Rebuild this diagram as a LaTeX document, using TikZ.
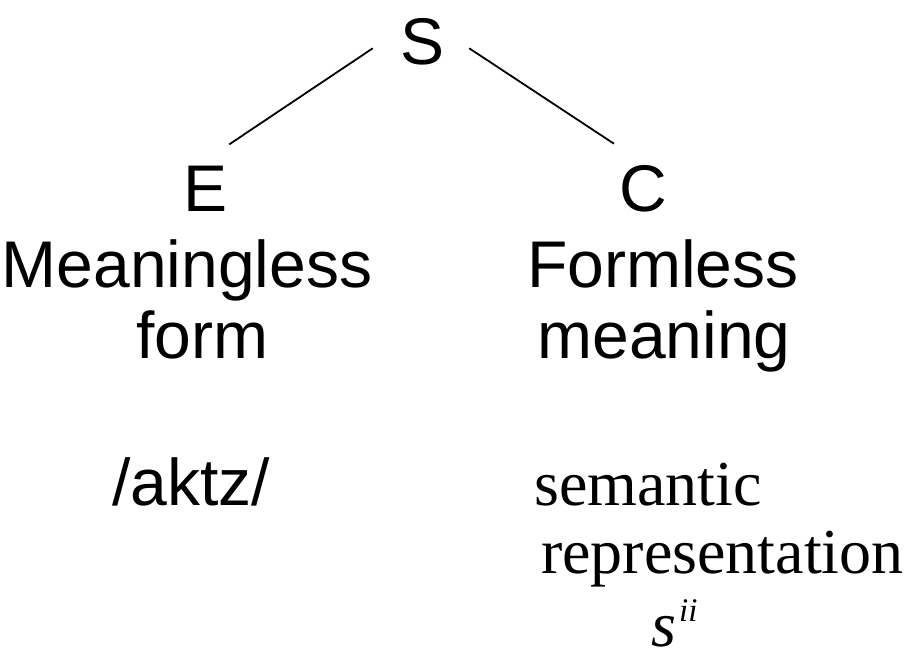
\documentclass[tikz,border=0pt]{standalone}
\usepackage{fontspec}
\setmainfont{Liberation Serif}
\newfontfamily\arialfont{Liberation Sans}

\begin{document}
\begin{tikzpicture}[x=1pt,y=-1pt,
  sans/.style={font=\arialfont\fontsize{66}{73}\selectfont, inner sep=0pt, anchor=base},
  serif/.style={font=\fontsize{64}{70}\selectfont, inner sep=0pt, anchor=base west},
  branch/.style={line width=1.8pt, line cap=butt}]
\useasboundingbox (0,0) rectangle (909,653);

% root and the two branches
\node[sans] (S) at (423,64) {S};
\node[sans] (E) at (206,211) {E};
\node[sans] (C) at (643,211) {C};

% glosses under each branch
\node[sans] (meaningless) at (187,287) {Meaningless};
\node[sans] (form) at (202,358) {form};
\node[sans] (formless) at (663,287) {Formless};
\node[sans] (meaning) at (664,358) {meaning};

% examples
\node[sans] (aktz) at (191,505) {/aktz/};
\node[serif] (semantic) at (534,505) {semantic};
\node[serif] (repr) at (541,573) {representation};
\node[serif] (sii) at (651,646) {\itshape s\kern3pt\raisebox{25pt}{\fontsize{33}{33}\selectfont ii}};

% tree edges
\draw[branch] ([shift={(-28,7)}]S.west) -- ([shift={(1,-21)}]E.north east);
\draw[branch] ([shift={(24,7)}]S.east) -- ([shift={(-5,-21)}]C.north west);
\end{tikzpicture}
\end{document}
